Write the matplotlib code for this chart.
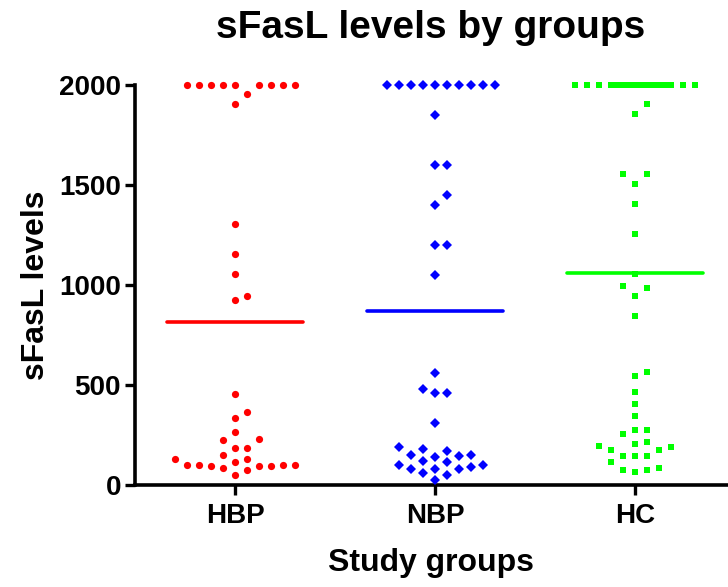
import numpy as np
import matplotlib
matplotlib.use("Agg")
import matplotlib.pyplot as plt

plt.rcParams['font.family'] = ['Liberation Sans', 'DejaVu Sans']
plt.rcParams['font.weight'] = 'bold'

groups = ["HBP", "NBP", "HC"]
hbp = [2000, 2000, 2000, 2000, 2000, 2000, 2000, 2000, 2000, 1953, 1903,
       1303, 1153, 1053, 943, 925, 453, 363, 333, 263, 228, 223, 183, 183,
       148, 128, 128, 113, 102, 102, 102, 102, 93, 93, 93, 87, 73, 50]
nbp = [2000, 2000, 2000, 2000, 2000, 2000, 2000, 2000, 2000, 2000, 1850,
       1598, 1598, 1448, 1400, 1200, 1200, 1048, 560, 480, 460, 460, 310,
       190, 180, 170, 150, 150, 145, 140, 120, 115, 100, 100, 90, 80, 80,
       80, 60, 50, 25]
hc = [2000, 2000, 2000, 2000, 2000, 2000, 2000, 2000, 2000, 2000, 2000,
      2000, 2000, 2000, 2000, 2000, 1903, 1853, 1553, 1553, 1503, 1403,
      1253, 1053, 993, 983, 943, 843, 563, 543, 463, 405, 343, 275, 275,
      253, 213, 203, 193, 188, 173, 173, 143, 143, 143, 113, 83, 73, 73, 63]
series = [hbp, nbp, hc]
colors = ["#FF0000", "#0000FF", "#00FF00"]
markers = ["o", "D", "s"]
msizes = [5.2, 4.6, 5.0]
yticks = [0, 500, 1000, 1500, 2000]

fig = plt.figure(figsize=(7.28, 5.87), dpi=100)
ax = fig.add_axes([135 / 728, 102 / 587, 593 / 728, 400 / 587])
ax.set_xlim(-0.5, 2.465)
ax.set_ylim(0, 2000)


def swarm_offsets(vals, ax, slot_px=12.0, thr_px=10.5, max_slot=5):
    """Greedy beeswarm in pixel space; returns x offsets in data units."""
    fig.canvas.draw()
    t = ax.transData
    x0 = t.transform((0, 0))
    x1 = t.transform((1, 0))
    px_per_x = x1[0] - x0[0]
    ys = np.array([t.transform((0, v))[1] for v in vals])
    order = np.argsort(vals, kind="stable")
    placed = []
    slots = np.zeros(len(vals))
    cands = [0]
    for k in range(1, max_slot + 1):
        cands += [k, -k]
    fallback = []
    for k in range(max_slot):
        fallback += [k + 0.5, -(k + 0.5)]
    fb_i = 0
    for i in order:
        chosen = None
        for c in cands:
            ok = True
            for (s, y) in placed:
                if np.hypot((c - s) * slot_px, ys[i] - y) < thr_px:
                    ok = False
                    break
            if ok:
                chosen = c
                break
        if chosen is None:
            chosen = fallback[fb_i % len(fallback)]
            fb_i += 1
        placed.append((chosen, ys[i]))
        slots[i] = chosen
    return slots * slot_px / px_per_x


for gi, (vals, col, mk, ms) in enumerate(zip(series, colors, markers, msizes)):
    vals = np.array(vals, dtype=float)
    offs = swarm_offsets(vals, ax)
    ax.plot(gi + offs, vals, linestyle="none", marker=mk, markersize=ms,
            color=col, markeredgewidth=0, clip_on=False, zorder=3)
    m = vals.mean()
    ax.plot([gi - 0.34, gi + 0.34], [m, m], color=col, lw=2.6,
            solid_capstyle="round", zorder=2)

ax.spines["top"].set_visible(False)
ax.spines["right"].set_visible(False)
for sp in ("left", "bottom"):
    ax.spines[sp].set_linewidth(2.6)
ax.set_xticks(range(len(groups)))
ax.set_xticklabels(groups)
ax.set_yticks(yticks)
ax.set_yticklabels([str(v) for v in yticks])
ax.tick_params(axis="both", direction="out", length=7, width=2.4,
               labelsize=20, pad=3)
ax.tick_params(axis="x", pad=6)
for lab in ax.get_xticklabels() + ax.get_yticklabels():
    lab.set_fontweight("bold")

ax.set_ylabel("sFasL levels", fontsize=23, fontweight="bold", labelpad=6)
ax.set_xlabel("Study groups", fontsize=23, fontweight="bold", labelpad=14)
fig.text(431 / 728, 1 - 28 / 587, "sFasL levels by groups", ha="center",
         va="center", fontsize=28, fontweight="bold")

fig.savefig("out.png", dpi=100)
